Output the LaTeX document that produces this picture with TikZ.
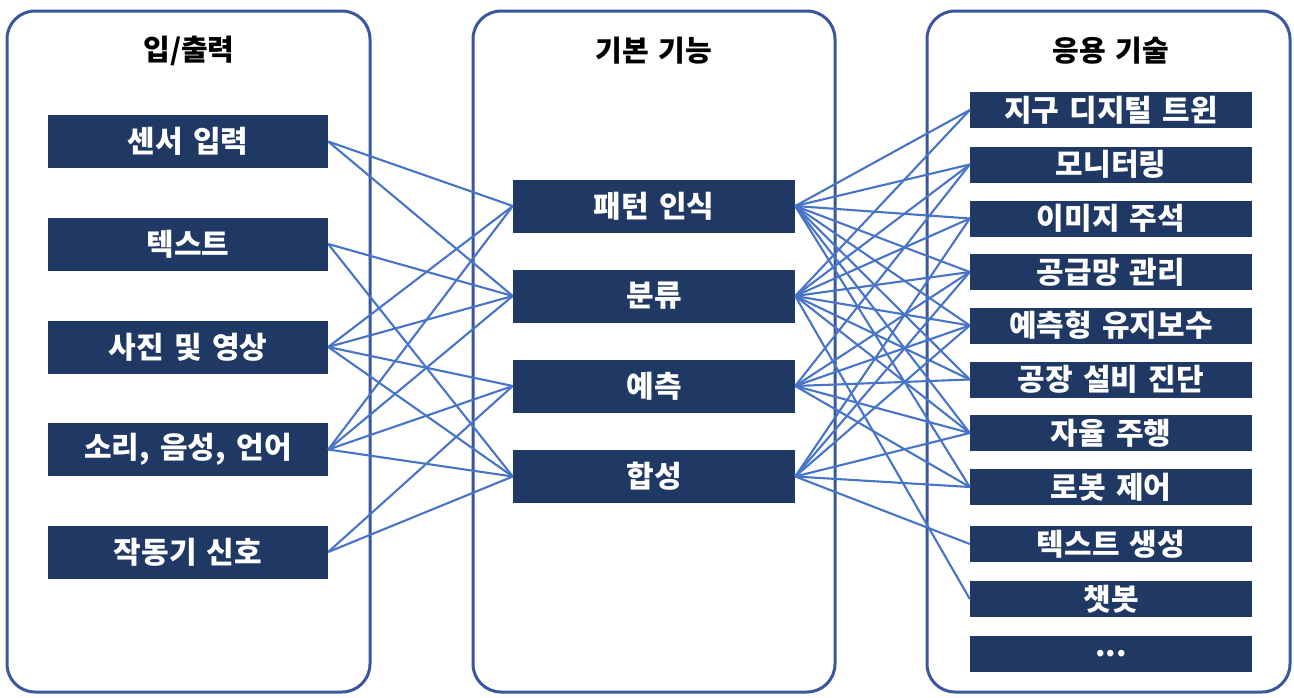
\documentclass[tikz,border=0pt]{standalone}
\usepackage{fontspec}
\setmainfont{Noto Sans CJK KR}[WordSpace=1.5]
\definecolor{framecol}{RGB}{58,86,158}
\definecolor{navy}{RGB}{32,56,100}
\definecolor{linkcol}{RGB}{72,116,200}
\begin{document}
\begin{tikzpicture}[x=1pt,y=-1pt,
  container/.style={draw=framecol,line width=3pt,rounded corners=28pt,fill=white},
  boxbase/.style={fill=navy,text=white,inner sep=0pt,font=\bfseries\fontsize{30}{34}\selectfont},
  lbox/.style={boxbase,minimum width=280pt,minimum height=53pt},
  mbox/.style={boxbase,minimum width=282pt,minimum height=53pt},
  rbox/.style={boxbase,minimum width=282pt,minimum height=36pt},
  title/.style={font=\bfseries\fontsize{29}{33}\selectfont,text=black},
  link/.style={draw=linkcol,line width=2.1pt}]
\useasboundingbox (0,0) rectangle (1294,697);
\fill[white] (0,0) rectangle (1294,697);
% containers
\draw[container] (7,11) rectangle (370,692);
\draw[container] (473,11) rectangle (835,692);
\draw[container] (927,11) rectangle (1290,692);
% titles
\node[title] (t1) at (189,51) {입/출력};
\node[title] (t2) at (654,51) {기본 기능};
\node[title] (t3) at (1111,51) {응용 기술};
% input nodes
\node[lbox] (i1) at (188,141.5) {센서 입력};
\node[lbox] (i2) at (188,244) {텍스트};
\node[lbox] (i3) at (188,347) {사진 및 영상};
\node[lbox] (i4) at (188,449.5) {소리, 음성, 언어};
\node[lbox] (i5) at (188,552) {작동기 신호};
% function nodes
\node[mbox] (p) at (654,206) {패턴 인식};
\node[mbox] (c) at (654,296) {분류};
\node[mbox] (f) at (654,386) {예측};
\node[mbox] (s) at (654,476.5) {합성};
% application nodes
\node[rbox] (r1) at (1111,110) {지구 디지털 트윈};
\node[rbox] (r2) at (1111,164.5) {모니터링};
\node[rbox] (r3) at (1111,218.5) {이미지 주석};
\node[rbox] (r4) at (1111,272) {공급망 관리};
\node[rbox] (r5) at (1111,325.5) {예측형 유지보수};
\node[rbox] (r6) at (1111,379.5) {공장 설비 진단};
\node[rbox] (r7) at (1111,433) {자율 주행};
\node[rbox] (r8) at (1111,487) {로봇 제어};
\node[rbox] (r9) at (1111,544) {텍스트 생성};
\node[rbox] (r10) at (1111,599) {챗봇};
\node[rbox] (r11) at (1111,654) {...};
% left links
\foreach \a/\b in {i1/p,i1/c,i2/c,i2/s,i3/p,i3/c,i3/f,i3/s,i4/p,i4/c,i4/f,i4/s,i5/f,i5/s}
  \draw[link] (\a.east) -- (\b.west);
% right links
\foreach \a/\b in {p/r1,p/r2,p/r3,p/r4,p/r5,p/r6,p/r7,p/r8,
                   c/r1,c/r2,c/r3,c/r4,c/r5,c/r6,c/r7,c/r10,
                   f/r2,f/r4,f/r5,f/r6,f/r7,f/r8,
                   s/r3,s/r4,s/r5,s/r7,s/r8,s/r9}
  \draw[link] (\a.east) -- (\b.west);
\end{tikzpicture}
\end{document}
